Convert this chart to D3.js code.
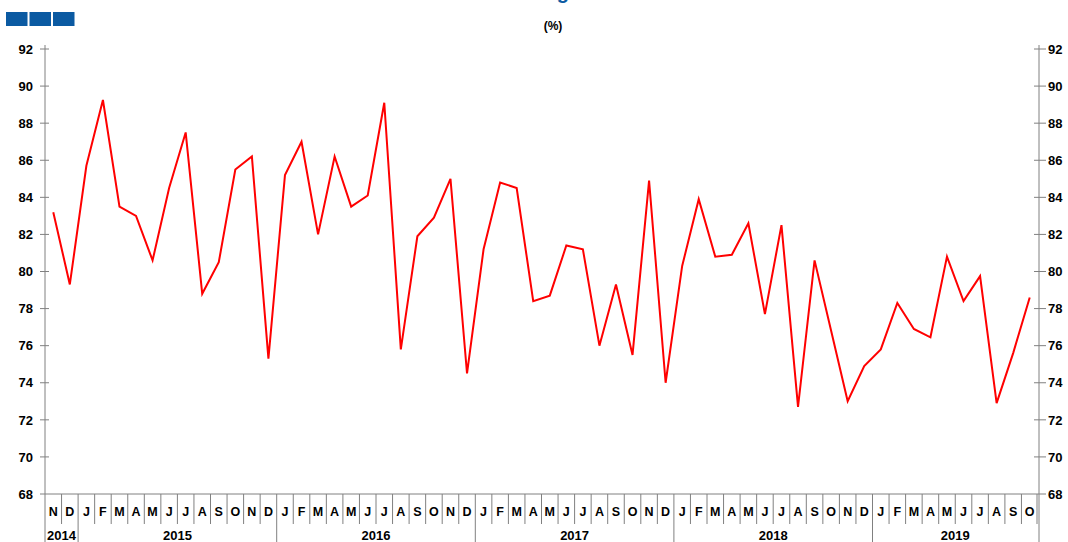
<!DOCTYPE html>
<html>
<head>
<meta charset="utf-8">
<script src="https://cdn.jsdelivr.net/npm/d3@7"></script>
<style>
  body { margin: 0; background: #fff; }
  text { font-family: "Liberation Sans", Arial, sans-serif; font-weight: bold; fill: #000; }
</style>
</head>
<body>
<div id="chart"></div>
<script>
var width = 1068,
	height = 542;

// Nov 2014 .. Oct 2019
var monthLetters = ["N","D",
	"J","F","M","A","M","J","J","A","S","O","N","D",
	"J","F","M","A","M","J","J","A","S","O","N","D",
	"J","F","M","A","M","J","J","A","S","O","N","D",
	"J","F","M","A","M","J","J","A","S","O","N","D",
	"J","F","M","A","M","J","J","A","S","O"];
var years = ["2014","2015","2016","2017","2018","2019"];
var yearMonths = [2, 12, 12, 12, 12, 10];
var values = [83.2, 79.3,
	85.7, 89.25, 83.5, 83.0, 80.6, 84.5, 87.5, 78.8, 80.5, 85.5, 86.2, 75.3,
	85.2, 87.0, 82.0, 86.2, 83.5, 84.1, 89.1, 75.8, 81.9, 82.9, 85.0, 74.5,
	81.2, 84.8, 84.5, 78.4, 78.7, 81.4, 81.2, 76.0, 79.3, 75.5, 84.9, 74.0,
	80.3, 83.9, 80.8, 80.9, 82.6, 77.7, 82.5, 72.7, 80.6, 76.8, 73.0, 74.9,
	75.8, 78.3, 76.9, 76.45, 80.8, 78.4, 79.75, 72.9, 75.6, 78.6];
var yTicks = [68, 70, 72, 74, 76, 78, 80, 82, 84, 86, 88, 90, 92];

var plotLeft = 45, plotRight = 1038, plotTop = 49, plotBottom = 494;
var axisColour = "#808080";

var svg = d3.select("#chart").append("svg")
	.attr("width", width)
	.attr("height", height);

// header bits
var blocks = [0, 1, 2];
svg.selectAll("rect.block").data(blocks).enter().append("rect")
	.attr("class", "block")
	.attr("x", function(d) { return 6 + d * 23.5; })
	.attr("y", 12)
	.attr("width", 21.5)
	.attr("height", 14)
	.attr("fill", "#0b5aa2");

// title sits mostly above the visible area, as in the source picture
svg.append("text")
	.attr("x", 569)
	.attr("y", -1)
	.attr("text-anchor", "end")
	.style("font-size", "20px")
	.style("fill", "#0b5aa2")
	.text("Business Confidence Rating");

svg.append("text")
	.attr("x", 553)
	.attr("y", 30)
	.attr("text-anchor", "middle")
	.style("font-size", "12px")
	.text("(%)");

var idx = d3.range(values.length);
var x = d3.scaleBand().domain(idx).range([plotLeft, plotRight]).padding(0);
var y = d3.scaleLinear().domain([68, 92]).range([plotBottom, plotTop]);

// left and right axes
var leftAxis = d3.axisLeft(y).tickValues(yTicks).tickSize(0).tickPadding(12);
var rightAxis = d3.axisRight(y).tickValues(yTicks).tickSize(0).tickPadding(10);

var gl = svg.append("g").attr("transform", "translate(" + plotLeft + ",0)").call(leftAxis);
var gr = svg.append("g").attr("transform", "translate(" + plotRight + ",0)").call(rightAxis);
[gl, gr].forEach(function(g) {
	g.select(".domain").remove();
	g.selectAll("text").style("font-size", "13px").style("font-family", "Liberation Sans, Arial, sans-serif").style("font-weight", "bold");
});

svg.selectAll("line.ltick").data(yTicks).enter().append("line")
	.attr("class", "ltick")
	.attr("x1", plotLeft - 5).attr("x2", function(d) { return d == 68 ? plotLeft : plotLeft + 4; })
	.attr("y1", function(d) { return y(d); }).attr("y2", function(d) { return y(d); })
	.attr("stroke", axisColour);
svg.selectAll("line.rtick").data(yTicks).enter().append("line")
	.attr("class", "rtick")
	.attr("x1", function(d) { return d == 68 ? plotRight : plotRight - 4; }).attr("x2", plotRight + 8)
	.attr("y1", function(d) { return y(d); }).attr("y2", function(d) { return y(d); })
	.attr("stroke", axisColour);

svg.append("line").attr("x1", plotLeft).attr("x2", plotLeft).attr("y1", plotTop - 4).attr("y2", height)
	.attr("stroke", axisColour);
svg.append("line").attr("x1", plotRight + 1).attr("x2", plotRight + 1).attr("y1", plotTop - 4).attr("y2", height)
	.attr("stroke", axisColour);
svg.append("line").attr("x1", plotLeft).attr("x2", plotRight).attr("y1", plotBottom).attr("y2", plotBottom)
	.attr("stroke", axisColour);

// month dividers and year dividers
var yearStarts = [];
var acc = 0;
for(var i = 0; i < yearMonths.length; i++) {
	yearStarts.push(acc);
	acc += yearMonths[i];
}
svg.selectAll("line.mdiv").data(idx.slice(1).concat([values.length])).enter().append("line")
	.attr("class", "mdiv")
	.attr("x1", function(d) { return d < values.length ? x(d) : plotRight - 1; })
	.attr("x2", function(d) { return d < values.length ? x(d) : plotRight - 1; })
	.attr("y1", plotBottom)
	.attr("y2", function(d) { return yearStarts.indexOf(d) >= 0 ? height : 524; })
	.attr("stroke", axisColour);

svg.selectAll("text.month").data(idx).enter().append("text")
	.attr("class", "month")
	.attr("x", function(d) { return x(d) + x.bandwidth() / 2; })
	.attr("y", 516)
	.attr("text-anchor", "middle")
	.style("font-size", "12.5px")
	.text(function(d) { return monthLetters[d]; });

svg.selectAll("text.year").data(years).enter().append("text")
	.attr("class", "year")
	.attr("x", function(d, i) {
		var s = yearStarts[i];
		return (x(s) + x(s + yearMonths[i] - 1) + x.bandwidth()) / 2;
	})
	.attr("y", 539.5)
	.attr("text-anchor", "middle")
	.style("font-size", "13px")
	.text(function(d) { return d; });

// the series
var line = d3.line()
	.x(function(d, i) { return x(i) + x.bandwidth() / 2; })
	.y(function(d) { return y(d); });

svg.append("path")
	.datum(values)
	.attr("d", line)
	.attr("fill", "none")
	.attr("stroke", "#ff0000")
	.attr("stroke-width", 2);
</script>
</body>
</html>
